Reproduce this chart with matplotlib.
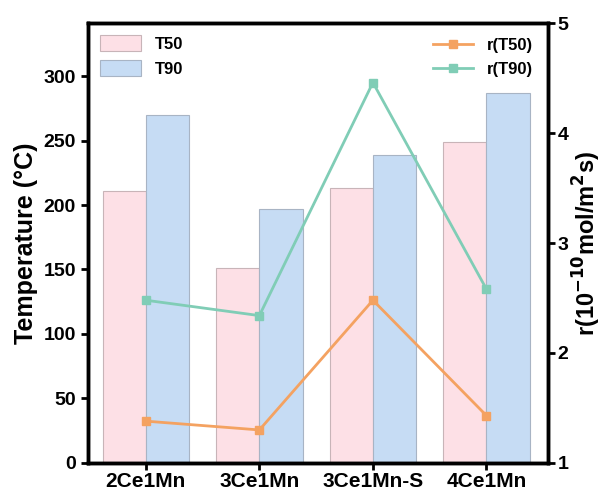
import matplotlib.pyplot as plt
import numpy as np

plt.rcParams['font.family'] = ['Liberation Sans', 'DejaVu Sans']
plt.rcParams['font.weight'] = 'bold'

samples = ["2Ce1Mn", "3Ce1Mn", "3Ce1Mn-S", "4Ce1Mn"]
t50 = [211, 151, 213, 249]
t90 = [270, 197, 239, 287]
r_t50 = [1.38, 1.30, 2.48, 1.43]
r_t90 = [2.48, 2.34, 4.46, 2.58]

x = np.arange(len(samples))
w = 0.38

fig = plt.figure(figsize=(6.06, 4.93), dpi=100)
ax = fig.add_axes([0.145, 0.061, 0.759, 0.892])
ax.bar(x - w/2, t50, w, color="#fde0e6", edgecolor="#c8b4b8", lw=0.8, label="T50")
ax.bar(x + w/2, t90, w, color="#c6dcf4", edgecolor="#a8b4c4", lw=0.8, label="T90")
ax.set_xlim(-0.51, 3.54)
ax.set_ylim(0, 341)
ax.set_yticks([0, 50, 100, 150, 200, 250, 300])
ax.set_xticks(x)
ax.set_xticklabels(samples)
ax.set_ylabel("Temperature (\u00b0C)", fontsize=18, fontweight='bold', labelpad=4)
ax.tick_params(width=2, length=5, labelsize=14)
ax.tick_params(axis='x', labelsize=15, pad=1.5)
for s in ax.spines.values():
    s.set_linewidth(2.5)
ax.legend(loc="upper left", frameon=False, fontsize=12, handlelength=2.5, handleheight=1.1,
          borderaxespad=0.3)

ax2 = ax.twinx()
ax2.plot(x, r_t50, color="#f4a261", marker="s", ms=6, lw=2, label="r(T50)")
ax2.plot(x, r_t90, color="#80cdb6", marker="s", ms=6, lw=2, label="r(T90)")
ax2.set_ylim(1, 5)
ax2.set_yticks([1, 2, 3, 4, 5])
ax2.set_ylabel("r(10$^{\\mathbf{-10}}$mol/m$^{\\mathbf{2}}$s)", fontsize=17, fontweight='bold',
               labelpad=2)
ax2.tick_params(width=2, length=5, labelsize=14, pad=2)
for s in ax2.spines.values():
    s.set_linewidth(2.5)
ax2.legend(loc="upper right", frameon=False, fontsize=12, handlelength=2.4, borderaxespad=0.5)

fig.savefig("out.png", dpi=100)
